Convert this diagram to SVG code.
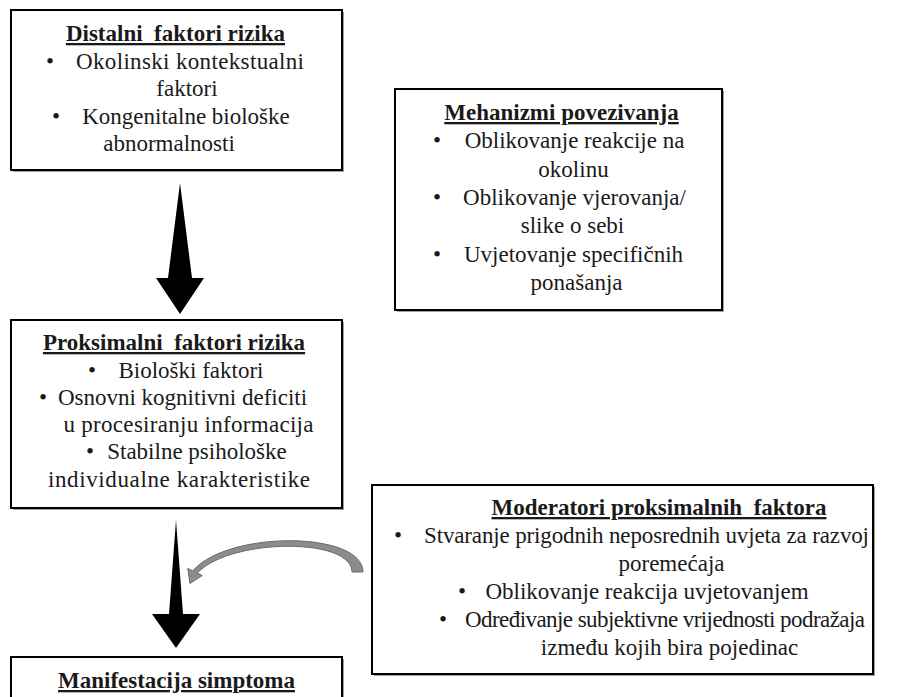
<svg xmlns="http://www.w3.org/2000/svg" width="908" height="697" viewBox="0 0 908 697">
<style>
  .box { fill: #ffffff; stroke: #000000; stroke-width: 2; }
  .shadow { fill: #a0a0a0; stroke: none; }
  text { font-family: "Liberation Serif", "Times New Roman", serif; font-size: 23px; fill: #1a1a1a; }
  .t { font-weight: bold; text-decoration: underline; }
  .c { text-anchor: middle; }
  .blk { fill: #000000; }
  .curve { fill: #8c8c8c; stroke: #6a6a6a; stroke-width: 1; }
</style>
<rect width="908" height="697" fill="#ffffff"/>

<g id="connectors">
  <polygon class="blk" points="180,183 192,278 204,278 180,314 156,278 168,278"/>
  <polygon class="blk" points="176,520 183,614 200,614 176,648 152,614 169,614"/>
  <path class="curve" d="M363,572 C363,531 228,530 192.7,570.9 L187.8,568.4 L190,583.5 L202.2,575.6 L197.3,573.1 C230,538 352,537 352,572 Z"/>
</g>

<g id="distalni">
  <rect class="shadow" x="13" y="12" width="331" height="160"/>
  <rect class="box" x="11" y="10" width="331" height="160"/>
  <text class="c t" x="175.5" y="41" xml:space="preserve">Distalni  faktori rizika</text>
  <text class="c" x="50" y="69">•</text>
  <text class="c" x="190" y="69" textLength="228" lengthAdjust="spacing">Okolinski kontekstualni</text>
  <text class="c" x="187" y="96">faktori</text>
  <text class="c" x="56" y="124">•</text>
  <text class="c" x="186" y="124">Kongenitalne biološke</text>
  <text class="c" x="169" y="151">abnormalnosti</text>
</g>

<g id="mehanizmi">
  <rect class="shadow" x="397" y="91" width="327" height="221"/>
  <rect class="box" x="395" y="89" width="327" height="221"/>
  <text class="c t" x="561.5" y="120">Mehanizmi povezivanja</text>
  <text class="c" x="437" y="148">•</text>
  <text class="c" x="574.5" y="148">Oblikovanje reakcije na</text>
  <text class="c" x="573.5" y="177">okolinu</text>
  <text class="c" x="437" y="205">•</text>
  <text class="c" x="574.5" y="205">Oblikovanje vjerovanja/</text>
  <text class="c" x="572.5" y="233">slike o sebi</text>
  <text class="c" x="437" y="262">•</text>
  <text class="c" x="573.5" y="262">Uvjetovanje specifičnih</text>
  <text class="c" x="576.5" y="290">ponašanja</text>
</g>

<g id="proksimalni">
  <rect class="shadow" x="13" y="322" width="331" height="188"/>
  <rect class="box" x="11" y="320" width="331" height="188"/>
  <text class="c t" x="174" y="350" xml:space="preserve">Proksimalni  faktori rizika</text>
  <text class="c" x="92" y="378">•</text>
  <text class="c" x="191" y="378">Biološki faktori</text>
  <text class="c" x="43" y="405">•</text>
  <text class="c" x="182.5" y="405">Osnovni kognitivni deficiti</text>
  <text class="c" x="188.5" y="432" textLength="250" lengthAdjust="spacing">u procesiranju informacija</text>
  <text class="c" x="90" y="459">•</text>
  <text class="c" x="197" y="459">Stabilne psihološke</text>
  <text class="c" x="179" y="487" textLength="262" lengthAdjust="spacing">individualne karakteristike</text>
</g>

<g id="moderatori">
  <rect class="shadow" x="374" y="487" width="501" height="189"/>
  <rect class="box" x="372" y="485" width="501" height="189"/>
  <text class="c t" x="659" y="515" xml:space="preserve">Moderatori proksimalnih  faktora</text>
  <text class="c" x="398" y="543">•</text>
  <text class="c" x="646.5" y="543" textLength="445" lengthAdjust="spacing">Stvaranje prigodnih neposrednih uvjeta za razvoj</text>
  <text class="c" x="671.5" y="571">poremećaja</text>
  <text class="c" x="462" y="599">•</text>
  <text class="c" x="647" y="599">Oblikovanje reakcija uvjetovanjem</text>
  <text class="c" x="443" y="627">•</text>
  <text class="c" x="665" y="627" textLength="400" lengthAdjust="spacing">Određivanje subjektivne vrijednosti podražaja</text>
  <text class="c" x="669.5" y="655">između kojih bira pojedinac</text>
</g>

<g id="manifestacija">
  <rect class="shadow" x="13" y="659" width="331" height="60"/>
  <rect class="box" x="11" y="657" width="331" height="60"/>
  <text class="c t" x="176.5" y="688">Manifestacija simptoma</text>
</g>
</svg>
